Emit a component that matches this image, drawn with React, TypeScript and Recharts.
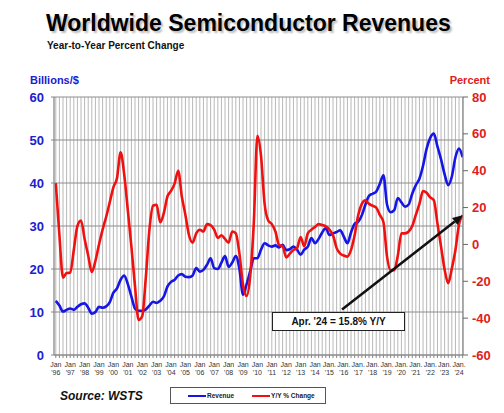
import {
  CartesianGrid,
  Line,
  LineChart,
  ReferenceLine,
  XAxis,
  YAxis,
} from "recharts";

// quarterly, Q1 '96 .. Q2 '24
const revenue = [
  12.6, 11.5, 10.1, 10.5,
  10.8, 10.5, 11.2, 11.8,
  12.0, 11.0, 9.6, 10.0,
  11.2, 11.0, 11.3, 12.3,
  14.5, 15.5, 17.5, 18.5,
  16.5, 13.6, 10.8, 10.3,
  10.3, 10.6, 11.5, 12.4,
  12.1, 12.6, 13.6, 15.9,
  17.0, 17.5, 18.5, 18.8,
  18.2, 18.1, 18.5, 20.2,
  19.4, 19.8, 21.0, 22.5,
  20.2, 20.0, 21.5, 23.0,
  20.5, 21.5, 23.0, 20.0,
  14.0, 16.5, 19.5, 22.5,
  22.5, 24.5, 26.0, 25.5,
  25.2, 25.5, 25.0, 25.6,
  24.4, 24.6, 25.2, 24.5,
  23.3, 24.5, 25.2, 27.2,
  26.0, 27.0, 28.5, 29.5,
  27.9, 28.3, 28.6, 29.0,
  27.5, 26.0, 28.5, 30.5,
  31.0, 32.5, 35.0, 37.0,
  37.5, 38.0, 39.8, 41.8,
  35.0, 33.2, 33.7, 36.5,
  35.5, 34.5, 35.0, 37.5,
  39.5, 41.0, 44.0, 48.0,
  50.5, 51.5, 48.5, 45.5,
  42.0, 39.5, 41.5, 46.0,
  48.0, 46.0,
];

const yoy = [
  33.3, 5, -18, -15.5,
  -15.4, -3, 10, 13,
  3, -6, -15, -9,
  0, 8, 15, 23,
  31, 36, 50, 38,
  18.6, -1.2, -22.7, -41,
  -39, -18, 8, 21,
  21.5, 12, 17, 26,
  29, 33, 40, 26,
  16, 5, 1, 6,
  8, 7, 11, 10.5,
  8, 3.5, 5, 3,
  1, 7, 6, -5,
  -22, -28, -17, 12,
  59, 48, 22, 13,
  11, 7, -0.3, -1,
  -7, -5, -3, -2,
  4, -1, 6, 8,
  9.5, 11, 10.5, 9.8,
  8, 5, -2, -5,
  -6, -6.6, -3, 5,
  16, 22, 24, 22,
  21, 20, 16, 12,
  -6.6, -14, -14, -6,
  6, 6, 7, 10,
  16, 22, 29, 28,
  25.5, 24, 11.4, -1.2,
  -13.7, -21, -13, -3,
  11, 15.8,
];

const years = [
  "'96", "'97", "'98", "'99", "'00", "'01", "'02", "'03", "'04", "'05",
  "'06", "'07", "'08", "'09", "'10", "'11", "'12", "'13", "'14", "'15",
  "'16", "'17", "'18", "'19", "'20", "'21", "'22", "'23", "'24",
];

const leftTicks = [0, 10, 20, 30, 40, 50, 60];
const rightTicks = [-60, -40, -20, 0, 20, 40, 60, 80];

const data = revenue.map((r, i) => ({ q: i, revenue: r, yoy: yoy[i] }));
const quarterTicks = data.map((d) => d.q);

const font = "'Liberation Sans', Arial, sans-serif";

const JanTick = (props: any) => {
  const { x, y, payload } = props;
  if (payload.value % 4 !== 0) return null;
  const idx = payload.value / 4;
  const jan = idx >= 19 ? "Jan." : "Jan";
  return (
    <g transform={`translate(${x},${y})`}>
      <text x={0} y={7} textAnchor="middle" fontSize={7} fill="#333" fontFamily={font}>
        {jan}
      </text>
      <text x={0} y={15} textAnchor="middle" fontSize={7} fill="#333" fontFamily={font}>
        {years[idx]}
      </text>
    </g>
  );
};

const Arrow = (props: any) => {
  const { x1, y1, x2, y2 } = props;
  const ang = Math.atan2(y2 - y1, x2 - x1);
  const len = 10;
  const w = 4.5;
  const bx = x2 - len * Math.cos(ang);
  const by = y2 - len * Math.sin(ang);
  const px = -Math.sin(ang) * w;
  const py = Math.cos(ang) * w;
  return (
    <g>
      <line x1={x1} y1={y1} x2={bx} y2={by} stroke="#111" strokeWidth={2.5} />
      <polygon
        points={`${x2},${y2} ${bx + px},${by + py} ${bx - px},${by - py}`}
        fill="#111"
      />
    </g>
  );
};

const App = () => {
  return (
    <div
      style={{
        position: "absolute",
        left: 0,
        top: 0,
        width: 504,
        height: 413,
        background: "#fff",
        fontFamily: font,
      }}
    >
      <div
        style={{
          position: "absolute",
          left: 46,
          top: 10,
          fontSize: 23,
          fontWeight: "bold",
          color: "#000",
          textShadow: "2px 2px 2px #bbb",
          whiteSpace: "nowrap",
        }}
      >
        Worldwide Semiconductor Revenues
      </div>
      <div
        style={{
          position: "absolute",
          left: 47,
          top: 40,
          fontSize: 10,
          fontWeight: "bold",
          color: "#111",
        }}
      >
        Year-to-Year Percent Change
      </div>
      <div
        style={{
          position: "absolute",
          left: 30,
          top: 74,
          fontSize: 11,
          fontWeight: "bold",
          color: "#2020d0",
        }}
      >
        Billions/$
      </div>
      <div
        style={{
          position: "absolute",
          right: 14,
          top: 74,
          fontSize: 11,
          fontWeight: "bold",
          color: "#e02020",
        }}
      >
        Percent
      </div>

      <LineChart
        width={504}
        height={413}
        data={data}
        margin={{ top: 97, right: 11, bottom: 38, left: 34 }}
        style={{ position: "absolute", left: 0, top: 0 }}
      >
        <CartesianGrid
          yAxisId="left"
          horizontal={false}
          vertical={true}
          stroke="#b8b8b8"
          strokeWidth={1}
        />
        <CartesianGrid
          yAxisId="left"
          horizontal={true}
          vertical={false}
          stroke="#8c8c8c"
          strokeWidth={1}
        />
        <XAxis
          dataKey="q"
          type="number"
          domain={[-0.5, 113.1]}
          ticks={quarterTicks}
          interval={0}
          tick={<JanTick />}
          tickLine={{ stroke: "#888" }}
          tickSize={3}
          axisLine={{ stroke: "#888" }}
          height={20}
          allowDataOverflow
        />
        <YAxis
          yAxisId="left"
          domain={[0, 60]}
          ticks={leftTicks}
          width={20}
          tick={{ fill: "#2020d0", fontSize: 13, fontWeight: "bold", fontFamily: font }}
          tickSize={3}
          tickMargin={7}
          tickLine={{ stroke: "#888" }}
          axisLine={{ stroke: "#888" }}
        />
        <YAxis
          yAxisId="right"
          orientation="right"
          domain={[-60, 80]}
          ticks={rightTicks}
          width={30}
          tick={{ fill: "#e02020", fontSize: 13, fontWeight: "bold", fontFamily: font, textAnchor: "start" }}
          tickSize={5}
          tickMargin={4}
          tickLine={{ stroke: "#666" }}
          axisLine={{ stroke: "#888" }}
        />
        <Line
          yAxisId="left"
          type="monotone"
          dataKey="revenue"
          stroke="#1515e6"
          strokeWidth={2.6}
          dot={false}
          isAnimationActive={false}
        />
        <Line
          yAxisId="right"
          type="monotone"
          dataKey="yoy"
          stroke="#f01010"
          strokeWidth={2.6}
          dot={false}
          isAnimationActive={false}
        />
        <ReferenceLine
          yAxisId="right"
          segment={[
            { x: 79.5, y: -35.3 },
            { x: 113, y: 15.8 },
          ]}
          shape={<Arrow />}
          ifOverflow="visible"
        />
      </LineChart>

      <div
        style={{
          position: "absolute",
          left: 272,
          top: 312,
          width: 131,
          height: 17,
          border: "1.5px solid #222",
          background: "#fff",
          fontSize: 10,
          fontWeight: "bold",
          textAlign: "center",
          lineHeight: "17px",
          color: "#111",
        }}
      >
        Apr. '24 = 15.8% Y/Y
      </div>

      <div
        style={{
          position: "absolute",
          left: 60,
          top: 389,
          fontSize: 12,
          fontWeight: "bold",
          fontStyle: "italic",
          color: "#111",
        }}
      >
        Source: WSTS
      </div>

      <div
        style={{
          position: "absolute",
          left: 170,
          top: 387,
          width: 154,
          height: 15,
          border: "1px solid #555",
          background: "#fff",
          fontSize: 6.5,
          fontWeight: "bold",
          color: "#222",
          display: "flex",
          alignItems: "center",
        }}
      >
        <span style={{ display: "inline-block", marginLeft: 17, width: 18, height: 2, background: "#1515e6" }} />
        <span style={{ marginLeft: 1 }}>Revenue</span>
        <span style={{ display: "inline-block", marginLeft: 18, width: 18, height: 2, background: "#f01010" }} />
        <span style={{ marginLeft: 1 }}>Y/Y % Change</span>
      </div>
    </div>
  );
};

export default App;
